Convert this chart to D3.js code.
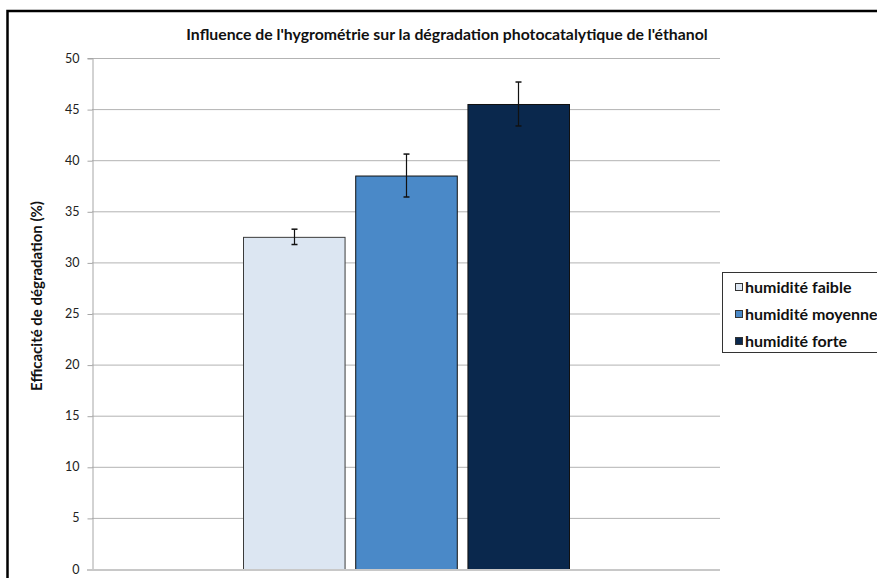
<!DOCTYPE html>
<html><head><meta charset="utf-8">
<script src="https://cdn.jsdelivr.net/npm/d3@7/dist/d3.min.js"></script>
<style>body{margin:0;background:#fff}svg{display:block}text{font-family:Lato,"Open Sans",sans-serif}</style>
</head><body><svg id="c" width="877" height="578"></svg>
<script>
const series = ["humidité faible", "humidité moyenne", "humidité forte"];
const values = [32.5, 38.5, 45.5];
const errors = [0.75, 2.1, 2.15];
const colors = ["#dce6f2", "#4a89c8", "#0a284d"];
const yTicks = [0, 5, 10, 15, 20, 25, 30, 35, 40, 45, 50];
const title = "Influence de l'hygrométrie sur la dégradation photocatalytique de l'éthanol";
const yLabel = "Efficacité de dégradation (%)";

const svg = d3.select("#c");
// outer frame
svg.append("rect").attr("x", 7.5).attr("y", 11).attr("width", 900).attr("height", 600)
  .attr("fill", "none").attr("stroke", "#000").attr("stroke-width", 2.5);

const x0 = 92, x1 = 720, yTop = 58, yBot = 569;
const y = d3.scaleLinear().domain([0, 50]).range([yBot, yTop]);
const x = d3.scaleBand().domain(series).range([243, 569]).paddingInner(0.095).paddingOuter(0);

// gridlines
svg.append("g").selectAll("line").data(yTicks.filter(d => d > 0)).join("line")
  .attr("x1", x0).attr("x2", x1).attr("y1", d => y(d) + 0.5).attr("y2", d => y(d) + 0.5)
  .attr("stroke", "#b3b3b3").attr("stroke-width", 1);

// y axis
const ax = svg.append("g").attr("transform", `translate(${x0 + 0.5},0)`)
  .call(d3.axisLeft(y).tickValues(yTicks).tickSize(5).tickPadding(8));
ax.select(".domain").attr("stroke", "#a6a6a6");
ax.selectAll(".tick line").attr("stroke", "#a6a6a6").attr("transform", "translate(0,0.5)");
ax.selectAll(".tick text").attr("font-size", 12.5).attr("fill", "#222").attr("font-family", "Lato, sans-serif");

// bars
svg.append("g").selectAll("rect").data(series).join("rect")
  .attr("x", d => x(d) + 0.5).attr("y", (d, i) => y(values[i]) + 0.5)
  .attr("width", x.bandwidth()).attr("height", (d, i) => y(0) - y(values[i]))
  .attr("fill", (d, i) => colors[i]).attr("stroke", (d,i)=> i===0 ? "#3b3b3b" : "#111").attr("stroke-width", 1);

// x axis line
svg.append("line").attr("x1", x0 - 5).attr("x2", x1).attr("y1", yBot + 1).attr("y2", yBot + 1)
  .attr("stroke", "#c8c8c8").attr("stroke-width", 2);

// error bars
const eb = svg.append("g").attr("stroke", "#111").attr("stroke-width", 1.2);
series.forEach((s, i) => {
  const cx = Math.round(x(s) + x.bandwidth() / 2) + 0.5;
  eb.append("line").attr("x1", cx).attr("x2", cx).attr("y1", y(values[i] + errors[i])).attr("y2", y(values[i] - errors[i]));
  [values[i] + errors[i], values[i] - errors[i]].forEach(v =>
    eb.append("line").attr("x1", cx - 3).attr("x2", cx + 3).attr("y1", y(v)).attr("y2", y(v)).attr("stroke-width", 1.5));
});

// title
svg.append("text").attr("x", 447).attr("y", 39.5).attr("text-anchor", "middle")
  .attr("font-size", 15.8).attr("font-weight", "bold").attr("fill", "#111").text(title);

// y label
svg.append("text").attr("transform", "translate(42,296) rotate(-90)").attr("text-anchor", "middle")
  .attr("font-size", 15).attr("font-weight", "bold").attr("fill", "#111").text(yLabel);

// legend
const lg = svg.append("g");
lg.append("rect").attr("x", 722.5).attr("y", 272.5).attr("width", 170).attr("height", 80)
  .attr("fill", "#fff").attr("stroke", "#333").attr("stroke-width", 1);
series.forEach((s, i) => {
  const ly = 287 + i * 27;
  lg.append("rect").attr("x", 735.5).attr("y", ly - 3.5).attr("width", 7).attr("height", 7)
    .attr("fill", colors[i]).attr("stroke", "#333");
  lg.append("text").attr("x", 745).attr("y", ly + 5.5).attr("font-size", 16).attr("font-weight", "bold")
    .attr("fill", "#111").text(s);
});
</script></body></html>
